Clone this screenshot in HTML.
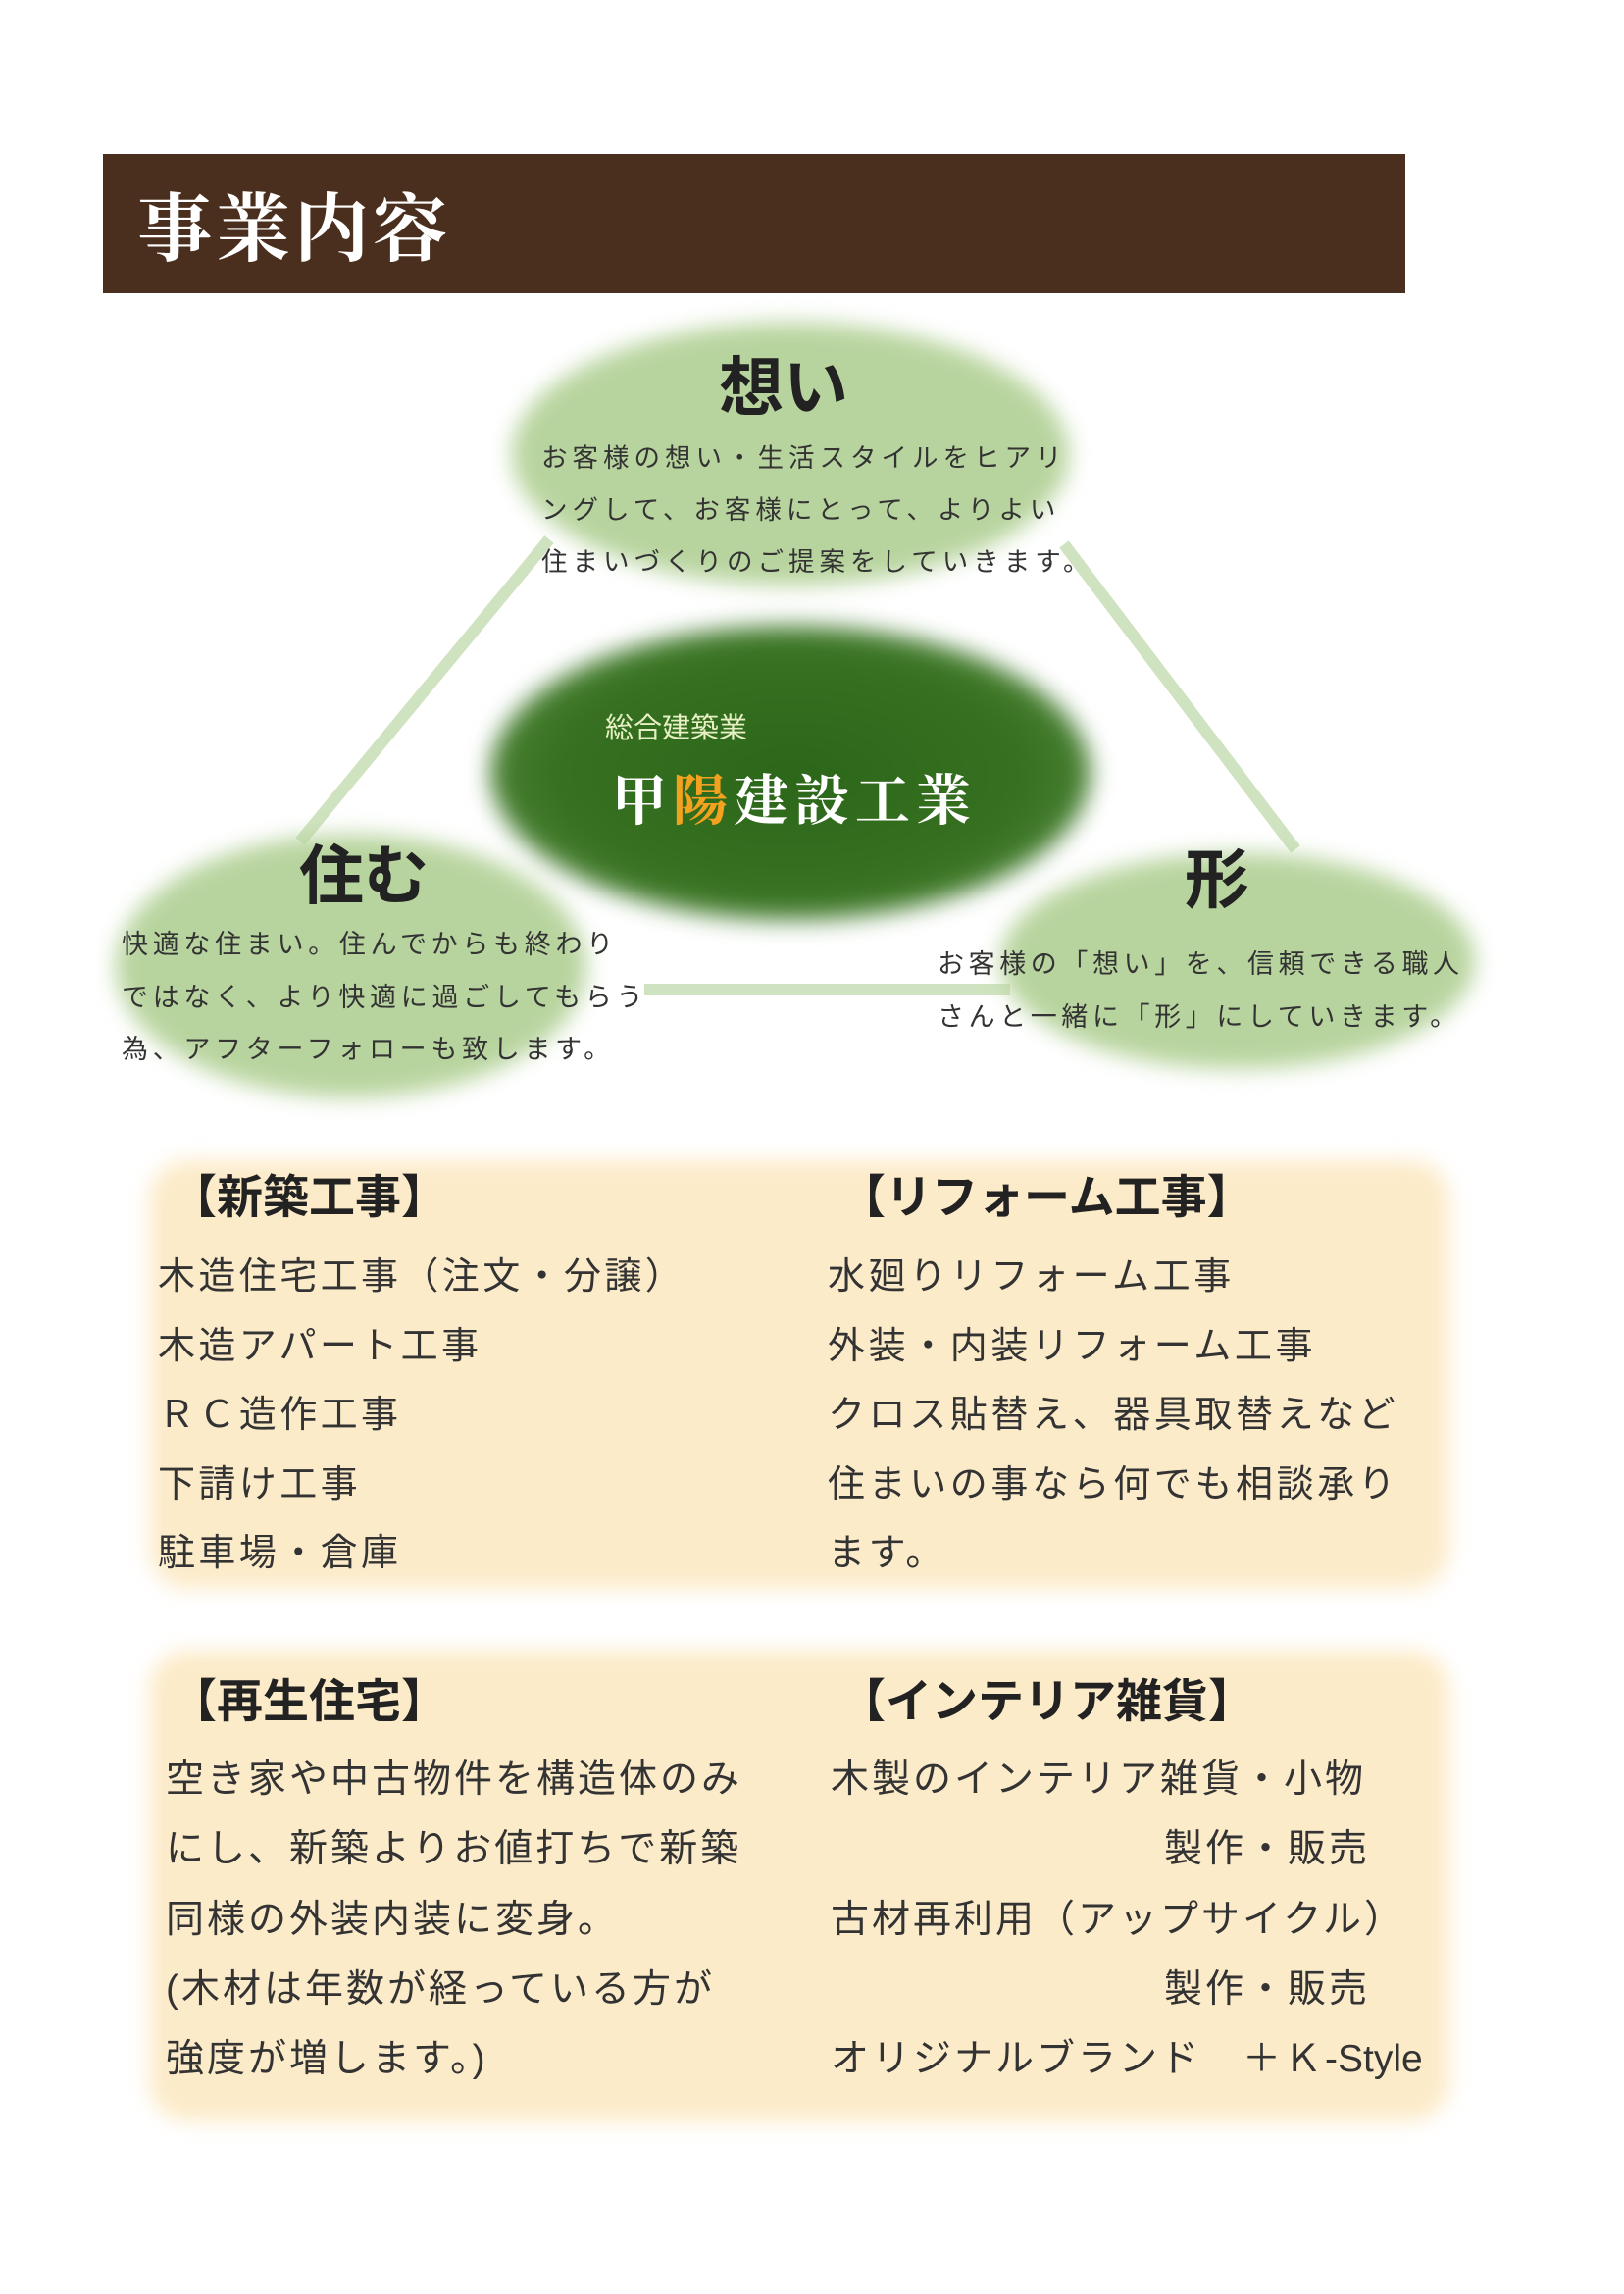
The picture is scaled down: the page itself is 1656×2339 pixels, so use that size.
<!DOCTYPE html>
<html><head><meta charset="utf-8"><style>
body{margin:0;width:1656px;height:2339px;background:#fff;position:relative;overflow:hidden;font-family:"Liberation Sans","Noto Sans CJK JP",sans-serif;color:#333}
.a{position:absolute;white-space:nowrap}
.el{position:absolute;border-radius:50%}
.t{position:absolute;white-space:nowrap;line-height:1;}
</style></head><body>
<div class="a" style="left:105px;top:157px;width:1328px;height:142px;background:#4b2f1e"></div>
<div class="t" style="left:140px;top:190px;font-size:76px;color:#fff;font-family:'Noto Serif CJK SC','Liberation Serif',serif;font-weight:bold;letter-spacing:4px">事業内容</div>

<svg class="a" style="left:0;top:0" width="1656" height="1200">
<g stroke="#cfe3c0" stroke-width="12" fill="none">
<line x1="560" y1="550" x2="306" y2="858"/>
<line x1="1085" y1="555" x2="1321" y2="866"/>
<line x1="657" y1="1009" x2="1030" y2="1009"/>
</g></svg>

<div class="el" style="left:522px;top:329px;width:568px;height:268px;background:#b8d49e;filter:blur(11px)"></div>
<div class="el" style="left:118px;top:851px;width:480px;height:268px;background:#b8d49e;filter:blur(11px)"></div>
<div class="el" style="left:1020px;top:870px;width:484px;height:220px;background:#b8d49e;filter:blur(11px)"></div>
<div class="el" style="left:500px;top:638px;width:612px;height:300px;background:radial-gradient(ellipse at center,#2c6619 0%,#367020 55%,#5a8f44 85%,#a4c690 100%);filter:blur(12px)"></div>

<div class="t" style="left:733px;top:362px;font-size:66px;font-weight:bold;color:#222">想い</div>
<div class="t" style="left:305px;top:860px;font-size:66px;font-weight:bold;color:#222">住む</div>
<div class="t" style="left:1208px;top:864px;font-size:66px;font-weight:bold;color:#222">形</div>

<div class="t" style="left:552px;top:453px;font-size:26.5px;letter-spacing:5px;line-height:53px;margin-top:-12px">お客様の想い・生活スタイルをヒアリ<br>ングして、お客様にとって、よりよい<br>住まいづくりのご提案をしていきます。</div>
<div class="t" style="left:124px;top:949px;font-size:27px;letter-spacing:4.7px;line-height:53.5px;margin-top:-12px">快適な住まい。住んでからも終わり<br>ではなく、より快適に過ごしてもらう<br>為、アフターフォローも致します。</div>
<div class="t" style="left:956px;top:968px;font-size:27px;letter-spacing:4.6px;line-height:54px;margin-top:-12px">お客様の「想い」を、信頼できる職人<br>さんと一緒に「形」にしていきます。</div>

<div class="t" style="left:617px;top:729px;font-size:29px;color:#e6f0c4">総合建築業</div>
<div class="t" style="left:624px;top:785px;font-size:56px;color:#fff;font-weight:bold;letter-spacing:6px;font-family:'Noto Serif CJK SC','Liberation Serif',serif">甲<span style="color:#f2a21e">陽</span>建設工業</div>

<div class="a" style="left:152px;top:1183px;width:1326px;height:437px;border-radius:40px;background:#fcebc9;filter:blur(10px)"></div>
<div class="a" style="left:152px;top:1683px;width:1326px;height:480px;border-radius:40px;background:#fcebc9;filter:blur(10px)"></div>

<div class="t" style="left:174px;top:1197px;font-size:47px;font-weight:bold;color:#222">【新築工事】</div>
<div class="t" style="left:856px;top:1197px;font-size:47px;font-weight:bold;color:#222">【リフォーム工事】</div>
<div class="t" style="left:161px;top:1282px;font-size:38px;letter-spacing:3.4px;line-height:70.5px;margin-top:-15px">木造住宅工事（注文・分譲）<br>木造アパート工事<br>ＲＣ造作工事<br>下請け工事<br>駐車場・倉庫</div>
<div class="t" style="left:844px;top:1282px;font-size:38px;letter-spacing:3.6px;line-height:70.5px;margin-top:-15px">水廻りリフォーム工事<br>外装・内装リフォーム工事<br>クロス貼替え、器具取替えなど<br>住まいの事なら何でも相談承り<br>ます。</div>

<div class="t" style="left:174px;top:1711px;font-size:47px;font-weight:bold;color:#222">【再生住宅】</div>
<div class="t" style="left:856px;top:1711px;font-size:47px;font-weight:bold;color:#222">【インテリア雑貨】</div>
<div class="t" style="left:169px;top:1794px;font-size:39px;letter-spacing:3px;line-height:71.3px;margin-top:-15px">空き家や中古物件を構造体のみ<br>にし、新築よりお値打ちで新築<br>同様の外装内装に変身。<br>(木材は年数が経っている方が<br>強度が増します。)</div>
<div class="t" style="left:847px;top:1794px;font-size:39px;letter-spacing:3px;line-height:71.3px;margin-top:-15px">木製のインテリア雑貨・小物<br><span style="padding-left:340px">製作・販売</span><br>古材再利用（アップサイクル）<br><span style="padding-left:340px">製作・販売</span><br>オリジナルブランド　＋Ｋ<span style="letter-spacing:0">-Style</span></div>
</body></html>
